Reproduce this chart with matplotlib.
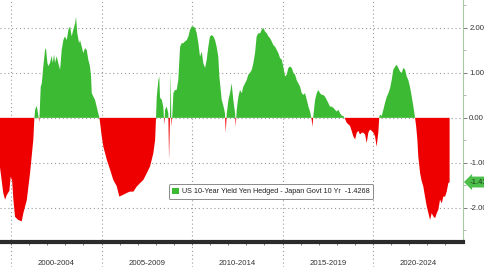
import matplotlib
matplotlib.use("Agg")
import matplotlib.pyplot as plt
from matplotlib.patches import Patch
import numpy as np

plt.rcParams['font.family'] = ['Liberation Sans', 'DejaVu Sans']

# decimal-year dates and spread values (US 10Y yen hedged minus JGB 10Y)
dates = [
    1999.39, 1999.57, 1999.67, 1999.76, 1999.91, 1999.98, 2000.06, 2000.13, 2000.22, 2000.40,
    2000.59, 2000.68, 2000.77, 2000.87, 2000.96, 2001.05, 2001.14, 2001.23, 2001.29, 2001.33,
    2001.42, 2001.51, 2001.56, 2001.64, 2001.70, 2001.78, 2001.88, 2001.93, 2002.01, 2002.06,
    2002.15, 2002.25, 2002.30, 2002.38, 2002.43, 2002.52, 2002.61, 2002.71, 2002.80, 2002.89,
    2002.98, 2003.08, 2003.17, 2003.26, 2003.35, 2003.44, 2003.54, 2003.59, 2003.66, 2003.76,
    2003.81, 2003.91, 2003.99, 2004.09, 2004.18, 2004.27, 2004.36, 2004.42, 2004.46, 2004.55,
    2004.64, 2004.73, 2004.82, 2004.88, 2004.92, 2005.01, 2005.10, 2005.29, 2005.47, 2005.65,
    2005.84, 2005.98, 2006.20, 2006.39, 2006.57, 2006.76, 2006.94, 2007.13, 2007.31, 2007.50,
    2007.68, 2007.86, 2007.96, 2008.01, 2008.05, 2008.14, 2008.19, 2008.23, 2008.33, 2008.41,
    2008.47, 2008.51, 2008.60, 2008.69, 2008.73, 2008.78, 2008.82, 2008.86, 2008.91, 2008.97,
    2009.06, 2009.15, 2009.24, 2009.34, 2009.43, 2009.52, 2009.61, 2009.71, 2009.80, 2009.89,
    2009.98, 2010.07, 2010.17, 2010.26, 2010.35, 2010.44, 2010.54, 2010.62, 2010.72, 2010.81,
    2010.90, 2010.99, 2011.09, 2011.18, 2011.27, 2011.36, 2011.45, 2011.51, 2011.64, 2011.73,
    2011.82, 2011.86, 2011.92, 2012.01, 2012.10, 2012.19, 2012.28, 2012.38, 2012.41, 2012.47,
    2012.56, 2012.65, 2012.75, 2012.83, 2012.93, 2013.02, 2013.11, 2013.20, 2013.30, 2013.39,
    2013.48, 2013.57, 2013.66, 2013.76, 2013.85, 2013.94, 2014.03, 2014.13, 2014.22, 2014.31,
    2014.40, 2014.49, 2014.59, 2014.68, 2014.77, 2014.86, 2014.96, 2015.04, 2015.14, 2015.23,
    2015.32, 2015.41, 2015.51, 2015.60, 2015.69, 2015.78, 2015.87, 2015.97, 2016.06, 2016.15,
    2016.24, 2016.34, 2016.43, 2016.52, 2016.61, 2016.65, 2016.70, 2016.80, 2016.89, 2016.98,
    2017.07, 2017.17, 2017.25, 2017.35, 2017.44, 2017.53, 2017.62, 2017.72, 2017.81, 2017.90,
    2017.99, 2018.08, 2018.18, 2018.27, 2018.36, 2018.45, 2018.55, 2018.73, 2018.82, 2018.91,
    2019.01, 2019.10, 2019.19, 2019.28, 2019.38, 2019.46, 2019.56, 2019.65, 2019.74, 2019.83,
    2019.93, 2020.02, 2020.11, 2020.20, 2020.29, 2020.35, 2020.39, 2020.48, 2020.57, 2020.66,
    2020.76, 2020.85, 2020.94, 2021.03, 2021.12, 2021.22, 2021.31, 2021.40, 2021.49, 2021.59,
    2021.67, 2021.77, 2021.86, 2021.95, 2022.04, 2022.14, 2022.23, 2022.32, 2022.38, 2022.45,
    2022.50, 2022.60, 2022.69, 2022.78, 2022.87, 2022.97, 2023.06, 2023.15, 2023.24, 2023.33,
    2023.43, 2023.52, 2023.61, 2023.70, 2023.80, 2023.88, 2023.98, 2024.07, 2024.16, 2024.23,
]
values = [
    -1.10, -1.67, -1.82, -1.72, -1.62, -1.31, -1.40, -1.82, -2.20, -2.27,
    -2.30, -2.12, -1.98, -1.83, -1.53, -1.23, -0.86, -0.49, 0.00, 0.18,
    0.27, 0.05, -0.10, 0.69, 0.77, 1.13, 1.51, 1.55, 1.22, 1.15,
    1.22, 1.38, 1.22, 1.41, 1.22, 1.37, 1.22, 1.07, 1.51, 1.73,
    1.81, 1.73, 1.96, 2.03, 1.81, 1.96, 2.10, 2.25, 1.88, 1.66,
    1.73, 1.58, 1.44, 1.55, 1.51, 1.29, 1.15, 0.92, 0.55, 0.47,
    0.40, 0.25, 0.10, 0.00, -0.11, -0.41, -0.64, -0.93, -1.15, -1.38,
    -1.52, -1.75, -1.71, -1.67, -1.64, -1.64, -1.53, -1.45, -1.38, -1.23,
    -1.08, -0.79, -0.49, 0.00, 0.47, 0.84, 0.92, 0.45, 0.40, 0.25,
    -0.15, 0.18, 0.25, 0.10, -0.93, 0.00, 1.03, -0.20, 0.04, 0.55,
    0.62, 0.62, 0.84, 1.58, 1.66, 1.66, 1.70, 1.73, 1.81, 1.96,
    2.03, 2.03, 2.00, 1.88, 1.66, 1.36, 1.47, 1.22, 1.11, 1.29,
    1.58, 1.81, 1.84, 1.81, 1.73, 1.58, 1.36, 0.92, 0.40, 0.27,
    0.10, -0.33, 0.10, 0.40, 0.55, 0.77, 0.40, 0.10, -0.20, 0.18,
    0.47, 0.62, 0.55, 0.69, 0.77, 0.84, 0.96, 1.00, 1.07, 1.22,
    1.44, 1.81, 1.88, 1.88, 1.96, 2.00, 1.92, 1.88, 1.81, 1.77,
    1.70, 1.62, 1.58, 1.51, 1.44, 1.33, 1.29, 1.14, 0.92, 0.96,
    1.11, 1.14, 1.11, 1.00, 0.96, 0.84, 0.77, 0.69, 0.55, 0.51,
    0.55, 0.40, 0.25, 0.14, -0.04, -0.20, 0.04, 0.40, 0.55, 0.62,
    0.55, 0.51, 0.51, 0.47, 0.40, 0.33, 0.25, 0.25, 0.22, 0.18,
    0.14, 0.18, 0.10, 0.05, 0.04, -0.02, -0.11, -0.18, -0.29, -0.41,
    -0.48, -0.33, -0.29, -0.37, -0.33, -0.33, -0.37, -0.56, -0.33, -0.26,
    -0.29, -0.33, -0.41, -0.64, -0.33, 0.04, 0.07, 0.04, 0.18, 0.33,
    0.47, 0.55, 0.66, 0.84, 1.07, 1.14, 1.18, 1.11, 1.03, 1.00,
    1.11, 1.07, 0.92, 0.84, 0.69, 0.47, 0.25, 0.00, -0.18, -0.49,
    -0.86, -1.23, -1.41, -1.53, -1.75, -1.97, -2.12, -2.27, -2.12, -2.19,
    -2.23, -2.12, -2.04, -1.82, -1.90, -1.75, -1.75, -1.64, -1.45, -1.43,
]
period_labels = ["2000-2004", "2005-2009", "2010-2014", "2015-2019", "2020-2024"]
period_starts = [2000, 2005, 2010, 2015, 2020]
y_ticks = [2.0, 1.0, 0.0, -1.0, -2.0]
legend_label = "US 10-Year Yield Yen Hedged - Japan Govt 10 Yr  -1.4268"
last_value = -1.4268

GREEN = '#3dba34'
RED = '#ee0000'

x = np.array(dates)
y = np.array(values)

fig = plt.figure(figsize=(4.85, 2.67), dpi=100)
ax = fig.add_axes([0.0, 25 / 267, 463 / 485, 242 / 267])

ax.fill_between(x, y, 0, where=y >= 0, interpolate=True, color=GREEN, linewidth=0, zorder=2)
ax.fill_between(x, y, 0, where=y <= 0, interpolate=True, color=RED, linewidth=0, zorder=2)

ax.set_xlim(1999.39, 2024.97)
ax.set_ylim(-2.76, 2.62)

# grid
for yt in y_ticks:
    ax.axhline(yt, color='#9a9a9a', lw=0.8, ls=(0, (1, 2.5)), zorder=1)
for xs in period_starts:
    ax.axvline(xs, ymin=-25 / 242, ymax=1, color='#9a9a9a', lw=0.8, ls=(0, (1, 2.5)),
               zorder=1, clip_on=False)

# spines
for s in ['top', 'left']:
    ax.spines[s].set_visible(False)
ax.spines['right'].set_color('#a9c9a4')
ax.spines['right'].set_linewidth(0.8)
ax.spines['bottom'].set_color('#2b2b2b')
ax.spines['bottom'].set_linewidth(3.0)

# y axis on right
ax.yaxis.tick_right()
ax.set_yticks(y_ticks)
ax.set_yticklabels([f"{v:.2f}" for v in y_ticks])
ax.set_yticks(np.arange(-2.5, 2.6, 0.5), minor=True)
ax.tick_params(axis='y', which='major', length=3, width=0.6, color='#666666',
               labelsize=5.6, labelcolor='#333333', pad=1.5)
ax.tick_params(axis='y', which='minor', length=2, width=0.5, color='#999999')

# x axis: yearly minor ticks, period labels centered
ax.set_xticks([s + 2.5 for s in period_starts])
ax.set_xticklabels(period_labels)
ax.set_xticks(np.arange(2000, 2025, 1), minor=True)
ax.tick_params(axis='x', which='major', length=0, labelsize=5.6, labelcolor='#333333', pad=13)
ax.tick_params(axis='x', which='minor', length=2.5, width=0.6, color='#666666', direction='out')

# legend
leg = ax.legend(handles=[Patch(facecolor=GREEN, edgecolor='none', label=legend_label)],
                loc='center', bbox_to_anchor=(0.585, 0.208), fontsize=5.2,
                frameon=True, fancybox=True, edgecolor='#8a8a8a', framealpha=1.0,
                handlelength=0.9, handleheight=0.9, handletextpad=0.4,
                borderpad=0.5, borderaxespad=0)
leg.get_frame().set_linewidth(0.7)
for t in leg.get_texts():
    t.set_color('#222222')

# last value tag
ax.annotate(f"{last_value:.2f}", xy=(1.0, last_value), xycoords=('axes fraction', 'data'),
            xytext=(5, 0), textcoords='offset points', ha='left', va='center',
            fontsize=5.6, color='#1d3d1d',
            bbox=dict(boxstyle='larrow,pad=0.25', facecolor='#4cc04a', edgecolor='none'),
            annotation_clip=False)

fig.savefig('out.png', dpi=100)
